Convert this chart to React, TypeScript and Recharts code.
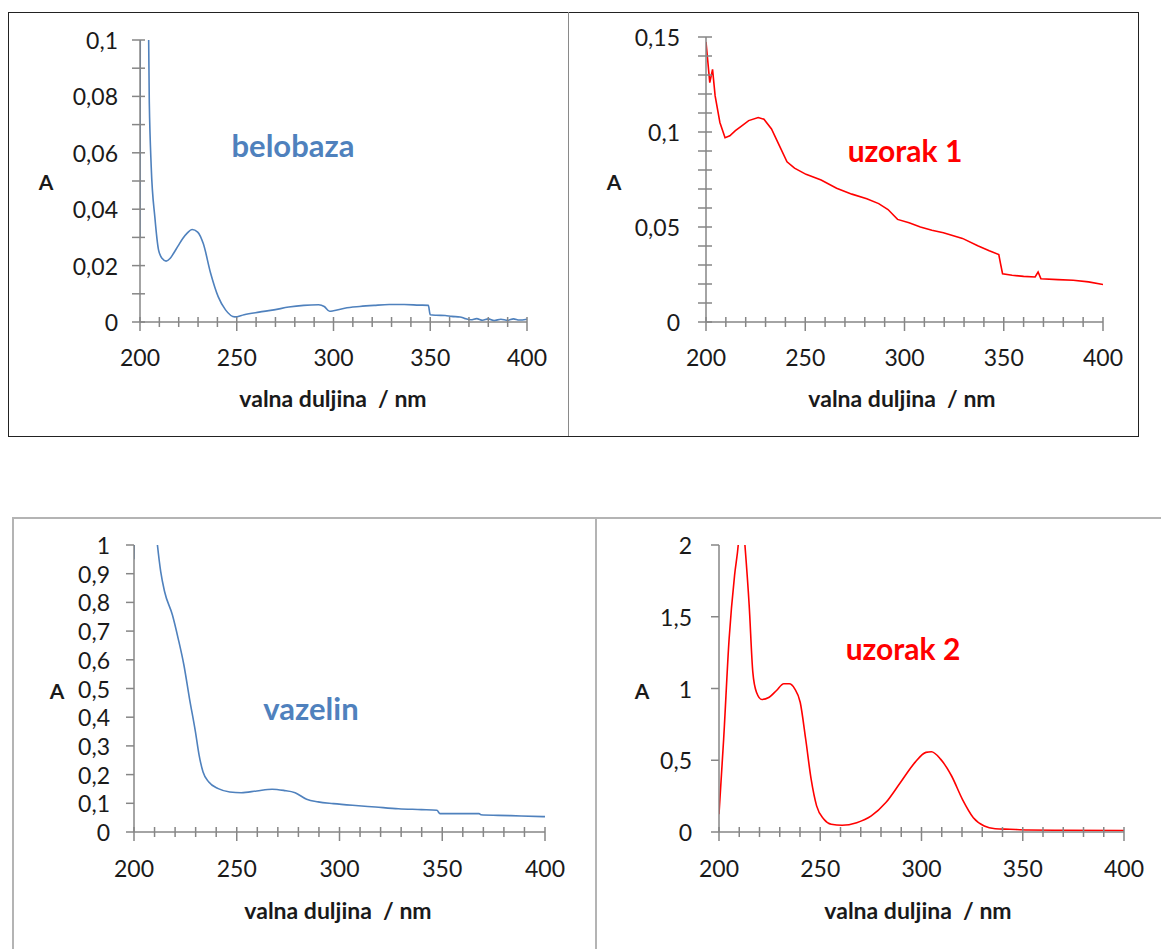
import React from 'react';
import { LineChart, Line, XAxis, YAxis } from 'recharts';

const FONT = 'Lato, "Open Sans", "DejaVu Sans", sans-serif';
const AXIS = '#868686';
const BLUE = '#4F81BD';
const RED = '#FF0000';
const INK = '#1a1a1a';
const TICK_FS = 23;

// ---- axes ----
const xTicks = [200, 210, 220, 230, 240, 250, 260, 270, 280, 290, 300, 310, 320, 330, 340, 350, 360, 370, 380, 390, 400];
const xMajor = [200, 250, 300, 350, 400];

const belobazaYTicks = [0, 0.01, 0.02, 0.03, 0.04, 0.05, 0.06, 0.07, 0.08, 0.09, 0.1];
const belobazaYMajor = [0, 0.02, 0.04, 0.06, 0.08, 0.1];
const uzorak1YTicks = [0, 0.01, 0.02, 0.03, 0.04, 0.05, 0.06, 0.07, 0.08, 0.09, 0.1, 0.11, 0.12, 0.13, 0.14, 0.15];
const uzorak1YMajor = [0, 0.05, 0.1, 0.15];
const vazelinYTicks = [0, 0.1, 0.2, 0.3, 0.4, 0.5, 0.6, 0.7, 0.8, 0.9, 1];
const uzorak2YTicks = [0, 0.5, 1, 1.5, 2];

// ---- series ----
const belobazaNm = [200, 201, 203, 204.8, 205.8, 207.7, 209.6, 211.5, 213.5, 215.5, 217.3, 219.7, 222.1, 224.5, 226.9, 229.8, 232.7, 236.5, 240.4, 244.2, 249, 253.8, 261.5, 269.2, 276.9, 284.6, 292.3, 295.2, 298, 300, 305.8, 313.5, 321, 328.8, 336.5, 344.2, 349, 350, 353, 357.7, 361, 365.4, 368, 371, 374, 377, 380, 383, 386.5, 390, 393, 396, 400];
const belobazaA = [0.03, 0.4, 0.2, 0.078, 0.055, 0.037, 0.0255, 0.0225, 0.0216, 0.0225, 0.0243, 0.027, 0.0296, 0.0316, 0.0328, 0.0319, 0.0278, 0.0173, 0.009, 0.0043, 0.0018, 0.0026, 0.0035, 0.0043, 0.0053, 0.0059, 0.0061, 0.0055, 0.0038, 0.004, 0.0049, 0.0055, 0.0059, 0.0062, 0.0062, 0.006, 0.0059, 0.0026, 0.0024, 0.0023, 0.002, 0.0018, 0.0012, 0.0008, 0.0012, 0.0006, 0.0011, 0.0005, 0.001, 0.0006, 0.0011, 0.0007, 0.001];

const uzorak1Nm = [200, 201.9, 203.3, 204.6, 207, 209.6, 212, 214.8, 217.7, 221.5, 226.3, 229.2, 233, 236.9, 240.8, 244.6, 250.4, 258, 265.8, 273.5, 281, 287, 291.7, 296.5, 302.3, 308, 313.8, 319.6, 329.2, 336.9, 342.7, 347.5, 348.4, 349.4, 354.2, 360, 365.8, 367.3, 368.7, 377.3, 385, 392.7, 400];
const uzorak1A = [0.1474, 0.126, 0.133, 0.119, 0.105, 0.097, 0.098, 0.1007, 0.103, 0.106, 0.1076, 0.1067, 0.1016, 0.093, 0.0843, 0.081, 0.0777, 0.0747, 0.0704, 0.0673, 0.0649, 0.0623, 0.0592, 0.054, 0.0522, 0.05, 0.0483, 0.047, 0.044, 0.0401, 0.0375, 0.0355, 0.0306, 0.0254, 0.0246, 0.024, 0.0237, 0.0263, 0.0228, 0.0223, 0.022, 0.0211, 0.0197];

const vazelinNm = [200, 201, 205, 210, 211.4, 213, 214.9, 218.7, 221.5, 224.3, 227, 229.9, 231.7, 233.6, 236.4, 241, 246.6, 252.2, 259.7, 267.2, 272.8, 278.4, 284, 289.6, 297, 306.3, 317.5, 328.7, 339.9, 347.4, 348.9, 358.6, 367.9, 368.8, 377.2, 388.4, 400];
const vazelinA = [0.95, 1.3, 1.5, 1.1, 1.0, 0.907, 0.837, 0.756, 0.674, 0.581, 0.465, 0.349, 0.267, 0.209, 0.174, 0.151, 0.1395, 0.137, 0.143, 0.149, 0.145, 0.137, 0.114, 0.105, 0.099, 0.093, 0.087, 0.081, 0.078, 0.0756, 0.064, 0.064, 0.064, 0.06, 0.058, 0.056, 0.0535];

const uzorak2Nm = [200, 202.3, 205, 207.7, 209.5, 211, 212.8, 214.9, 216.7, 218.5, 221.2, 224.8, 228.4, 232, 234.7, 237.4, 240.1, 242.8, 245.5, 248.2, 251.8, 255.4, 260.8, 268, 275.2, 282.4, 289.6, 296.8, 302.2, 304.9, 309.4, 314.8, 320.2, 325.6, 331, 336.4, 343.6, 352.6, 370.6, 400];
const uzorak2A = [0.124, 0.648, 1.347, 1.79, 2.0, 2.3, 2.0, 1.58, 1.114, 0.974, 0.923, 0.939, 0.986, 1.033, 1.033, 0.998, 0.904, 0.648, 0.368, 0.182, 0.089, 0.054, 0.047, 0.065, 0.112, 0.205, 0.345, 0.485, 0.555, 0.559, 0.508, 0.392, 0.228, 0.1, 0.042, 0.023, 0.019, 0.014, 0.012, 0.01];

const toRows = (xs: number[], ys: number[]) => xs.map((x, i) => ({ x, y: ys[i] }));
const fmt = (v: number) => String(v).replace('.', ',');
const isIn = (list: number[], v: number) => list.some((m) => Math.abs(m - v) < 1e-9);

const makeXTick = (labelDy: number) => (props: any) => {
  const { x, y, payload } = props;
  const v = payload.value;
  const major = isIn(xMajor, v);
  return (
    <g>
      <line x1={x} x2={x} y1={y - 5} y2={y + (major ? 9 : 5)} stroke={AXIS} strokeWidth={1.5} />
      {major && (
        <text x={x} y={y + labelDy} textAnchor="middle" dominantBaseline="central" fontSize={TICK_FS} fill={INK} fontFamily={FONT}>
          {v}
        </text>
      )}
    </g>
  );
};

const makeYTick = (majors: number[], crossRight: number, gap: number) => (props: any) => {
  const { x, y, payload } = props;
  const v = payload.value;
  const major = isIn(majors, v);
  return (
    <g>
      <line x1={x - 8} x2={x + crossRight} y1={y} y2={y} stroke={AXIS} strokeWidth={1.5} />
      {major && (
        <text x={x - gap} y={y} textAnchor="end" dominantBaseline="central" fontSize={TICK_FS} fill={INK} fontFamily={FONT}>
          {fmt(v)}
        </text>
      )}
    </g>
  );
};

type PanelProps = {
  left: number; top: number; width: number; height: number;
  plotLeft: number; plotTop: number; plotRight: number; plotBottom: number;
  rows: { x: number; y: number }[];
  color: string; curve: 'monotone' | 'linear';
  yTicks: number[]; yMajor: number[]; yMax: number;
  crossRight: number; gap: number; xLabelDy: number;
};

function Panel(p: PanelProps) {
  const yAxisWidth = p.plotLeft - p.left;
  const xAxisHeight = p.top + p.height - p.plotBottom;
  return (
    <div style={{ position: 'absolute', left: p.left, top: p.top }}>
      <LineChart
        width={p.width}
        height={p.height}
        data={p.rows}
        margin={{ top: p.plotTop - p.top, right: p.left + p.width - p.plotRight, left: 0, bottom: 0 }}
      >
        <XAxis
          dataKey="x"
          type="number"
          domain={[200, 400]}
          allowDataOverflow
          ticks={xTicks}
          interval={0}
          tickSize={0}
          tickMargin={0}
          tickLine={false}
          height={xAxisHeight}
          axisLine={{ stroke: AXIS, strokeWidth: 1.5 }}
          tick={makeXTick(p.xLabelDy)}
        />
        <YAxis
          type="number"
          domain={[0, p.yMax]}
          allowDataOverflow
          ticks={p.yTicks}
          interval={0}
          tickSize={0}
          tickMargin={0}
          tickLine={false}
          width={yAxisWidth}
          axisLine={{ stroke: AXIS, strokeWidth: 1.5 }}
          tick={makeYTick(p.yMajor, p.crossRight, p.gap)}
        />
        <Line dataKey="y" type={p.curve} stroke={p.color} strokeWidth={1.6} dot={false} isAnimationActive={false} />
      </LineChart>
    </div>
  );
}

const Txt = ({ x, y, children, size, color, bold = true }: any) => (
  <div
    style={{
      position: 'absolute', left: x, top: y, transform: 'translate(-50%, -50%)', whiteSpace: 'pre',
      fontFamily: FONT, fontSize: size, fontWeight: bold ? 700 : 400, color, lineHeight: 1,
    }}
  >
    {children}
  </div>
);

export default function App() {
  return (
    <div style={{ position: 'absolute', left: 0, top: 0, width: 1161, height: 949, background: '#fff', overflow: 'hidden' }}>
      {/* frames */}
      <div style={{ position: 'absolute', left: 8, top: 12, width: 1131, height: 425, border: '1px solid #222', boxSizing: 'border-box' }} />
      <div style={{ position: 'absolute', left: 568, top: 12, width: 1, height: 424, background: '#8a8a8a' }} />
      <div style={{ position: 'absolute', left: 12, top: 517, width: 1160, height: 450, borderTop: '2px solid #b4b4b4', borderLeft: '2px solid #b4b4b4', boxSizing: 'border-box' }} />
      <div style={{ position: 'absolute', left: 595, top: 517, width: 2, height: 440, background: '#b4b4b4' }} />

      <Panel left={8} top={12} width={560} height={424} plotLeft={140} plotTop={40} plotRight={527} plotBottom={322}
        rows={toRows(belobazaNm, belobazaA)} color={BLUE} curve="monotone"
        yTicks={belobazaYTicks} yMajor={belobazaYMajor} yMax={0.1} crossRight={5} gap={22} xLabelDy={35} />
      <Panel left={568} top={12} width={570} height={424} plotLeft={706} plotTop={37} plotRight={1103} plotBottom={322}
        rows={toRows(uzorak1Nm, uzorak1A)} color={RED} curve="linear"
        yTicks={uzorak1YTicks} yMajor={uzorak1YMajor} yMax={0.15} crossRight={6} gap={26} xLabelDy={35} />
      <Panel left={12} top={517} width={585} height={432} plotLeft={134} plotTop={545} plotRight={545} plotBottom={832}
        rows={toRows(vazelinNm, vazelinA)} color={BLUE} curve="monotone"
        yTicks={vazelinYTicks} yMajor={vazelinYTicks} yMax={1} crossRight={0} gap={24} xLabelDy={36} />
      <Panel left={597} top={517} width={564} height={432} plotLeft={719} plotTop={545} plotRight={1124} plotBottom={832}
        rows={toRows(uzorak2Nm, uzorak2A)} color={RED} curve="monotone"
        yTicks={uzorak2YTicks} yMajor={uzorak2YTicks} yMax={2} crossRight={0} gap={27} xLabelDy={36} />

      {/* axis titles */}
      <Txt x={46} y={181} size={21} color={INK}>A</Txt>
      <Txt x={614} y={181} size={21} color={INK}>A</Txt>
      <Txt x={57} y={690} size={21} color={INK}>A</Txt>
      <Txt x={642} y={690} size={21} color={INK}>A</Txt>
      <Txt x={333} y={398} size={23} color={INK}>{'valna duljina  / nm'}</Txt>
      <Txt x={902} y={398} size={23} color={INK}>{'valna duljina  / nm'}</Txt>
      <Txt x={338} y={910} size={23} color={INK}>{'valna duljina  / nm'}</Txt>
      <Txt x={918} y={910} size={23} color={INK}>{'valna duljina  / nm'}</Txt>

      {/* panel titles */}
      <Txt x={293} y={145} size={31} color={BLUE}>belobaza</Txt>
      <Txt x={905} y={150} size={30} color={RED}>uzorak 1</Txt>
      <Txt x={311} y={708} size={31} color={BLUE}>vazelin</Txt>
      <Txt x={903} y={648} size={30} color={RED}>uzorak 2</Txt>
    </div>
  );
}
